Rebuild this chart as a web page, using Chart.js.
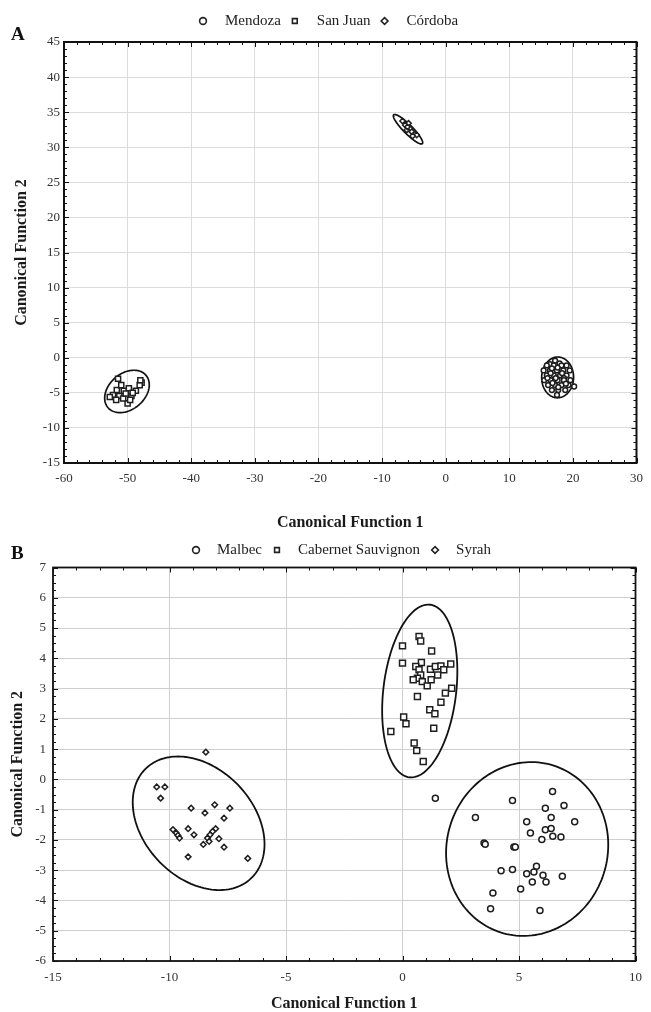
<!DOCTYPE html>
<html>
<head>
<meta charset="utf-8">
<script src="https://cdn.jsdelivr.net/npm/chart.js@4.4.1/dist/chart.umd.min.js"></script>
<style>
  body{margin:0;background:#fff;width:651px;height:1012px;position:relative;overflow:hidden;font-family:"Liberation Serif",serif;}
  .panel{position:absolute;left:0;width:651px;}
  #wrapA{top:0;height:540px;}
  #wrapB{top:530px;height:482px;}
  .tag{position:absolute;font-weight:bold;font-size:19px;line-height:1;color:#111;}
</style>
</head>
<body>
<div class="panel" id="wrapA"><canvas id="chartA"></canvas></div>
<div class="panel" id="wrapB"><canvas id="chartB"></canvas></div>
<div class="tag" style="left:11px;top:24px">A</div>
<div class="tag" style="left:11px;top:543px">B</div>
<script>
const SERIF = "'Liberation Serif', 'Times New Roman', serif";

// ---- Panel A: geographical origin ----
const labelsA = ['Mendoza', 'San Juan', 'Córdoba'];
const xTicksA = [-60, -50, -40, -30, -20, -10, 0, 10, 20, 30];
const yTicksA = [-15, -10, -5, 0, 5, 10, 15, 20, 25, 30, 35, 40, 45];

const mendoza = [
  [17.2,-0.4],[16.4,-0.9],[17.9,-0.8],[15.9,-1.1],[17.0,-1.1],[18.2,-1.1],[19.0,-1.1],
  [15.4,-1.8],[16.4,-1.8],[17.5,-1.8],[18.5,-1.8],[19.5,-1.8],
  [15.9,-2.5],[17.0,-2.5],[18.0,-2.5],[19.0,-2.5],[16.5,-2.2],[18.6,-2.9],
  [15.5,-3.2],[16.5,-3.2],[17.6,-3.2],[18.6,-3.2],[19.6,-3.2],
  [16.1,-3.9],[17.2,-3.9],[18.2,-3.9],[19.3,-3.9],[20.2,-4.1],
  [16.7,-4.6],[17.7,-4.6],[18.8,-4.6],[17.5,-5.3],
  [16.0,-2.9],[17.3,-2.9],[18.3,-2.2],[17.7,-4.2],[16.8,-3.6],[18.9,-3.7],[17.6,-1.4],[16.7,-1.5]
];
const sanJuan = [
  [-52.3,-5.3],[-51.3,-5.45],[-50.6,-4.7],[-49.8,-4.35],[-49.4,-5.45],[-48.7,-4.7],
  [-50.0,-6.5],[-50.7,-5.8],[-47.8,-3.55],[-51.7,-4.6],[-51.0,-3.9],[-48.1,-3.9],
  [-49.6,-6.0],[-50.3,-5.1],[-51.5,-3.0],[-48.0,-3.2],[-52.8,-5.6],[-51.8,-6.0],[-49.2,-5.0]
];
const cordoba = [
  [-6.36,33.17],[-5.84,33.41],[-5.58,32.70],[-6.11,32.46],[-5.06,31.99],
  [-4.55,31.75],[-5.33,32.22],[-6.78,33.74],[-6.0,32.9],[-5.2,31.6]
];
// ellipse: centre x, centre y, first semi-axis (dx, dy), second semi-axis (dx, dy)
const mendozaEllipse = [17.6, -2.8, 0.2, 2.9, 2.5, -0.2];
const sanJuanEllipse = [-50.1, -4.8, 3.0, 2.29, -1.81, 1.97];
const cordobaEllipse = [-5.92, 32.57, 2.25, -2.05, 0.5, 0.45];

// ---- Panel B: grape variety ----
const labelsB = ['Malbec', 'Cabernet Sauvignon', 'Syrah'];
const xTicksB = [-15, -10, -5, 0, 5, 10];
const yTicksB = [-6, -5, -4, -3, -2, -1, 0, 1, 2, 3, 4, 5, 6, 7];

const malbec = [
  [6.44,-0.4],[1.41,-0.62],[4.72,-0.7],[6.93,-0.86],[6.13,-0.95],[6.38,-1.26],[7.39,-1.4],
  [3.13,-1.26],[5.33,-1.4],[5.49,-1.77],[6.13,-1.66],[6.38,-1.62],[6.45,-1.88],[6.8,-1.9],
  [5.98,-1.99],[3.5,-2.1],[3.55,-2.14],[4.78,-2.23],[4.84,-2.23],[5.75,-2.87],[4.23,-3.02],
  [4.72,-2.98],[5.33,-3.12],[5.64,-3.06],[6.03,-3.17],[6.86,-3.2],[5.57,-3.39],[6.16,-3.39],
  [5.07,-3.62],[3.88,-3.75],[3.78,-4.27],[5.9,-4.33]
];
const cabernet = [
  [0.71,4.72],[0.78,4.57],[0.0,4.41],[1.25,4.24],[0.0,3.84],[0.81,3.86],[0.57,3.73],
  [1.2,3.64],[1.41,3.73],[1.65,3.75],[2.07,3.81],[1.77,3.62],[1.51,3.45],[0.71,3.62],
  [0.78,3.45],[0.64,3.34],[0.46,3.29],[0.85,3.23],[1.06,3.09],[1.23,3.29],[2.11,3.01],
  [1.84,2.85],[0.64,2.74],[1.65,2.55],[1.17,2.3],[1.39,2.17],[0.05,2.06],[0.15,1.84],
  [1.34,1.69],[0.5,1.2],[0.61,0.95],[0.89,0.59],[-0.5,1.58]
];
const syrah = [
  [-10.55,-0.25],[-10.2,-0.25],[-10.38,-0.62],[-8.44,0.9],[-9.07,-0.95],[-8.48,-1.11],
  [-8.06,-0.84],[-7.41,-0.95],[-7.66,-1.28],[-9.85,-1.66],[-9.71,-1.77],[-9.64,-1.85],
  [-9.57,-1.94],[-9.2,-1.63],[-8.95,-1.83],[-8.02,-1.63],[-8.15,-1.72],[-8.26,-1.83],
  [-8.37,-1.94],[-8.30,-2.05],[-8.55,-2.15],[-7.88,-1.96],[-7.66,-2.24],[-9.2,-2.56],[-6.64,-2.61]
];
const malbecEllipse = [5.35, -2.3, 1.27, 2.72, 3.24, -0.92];
const cabernetEllipse = [0.74, 2.92, 0.448, 2.85, 1.55, -0.149];
const syrahEllipse = [-8.75, -1.45, 2.29, -1.79, 1.66, 1.29];

function toXY(arr){ return arr.map(p => ({x: p[0], y: p[1]})); }

// confidence ellipses, traced in data space and mapped through the scales
const ellipsePlugin = {
  id: 'ellipses',
  beforeDatasetsDraw(chart, args, opts){
    const {ctx, scales: {x, y}} = chart;
    ctx.save();
    ctx.strokeStyle = opts.color; ctx.lineWidth = opts.width;
    (opts.items || []).forEach(e => {
      ctx.beginPath();
      for(let i = 0; i <= 160; i++){
        const t = i / 160 * Math.PI * 2;
        const px = x.getPixelForValue(e[0] + e[2]*Math.cos(t) + e[4]*Math.sin(t));
        const py = y.getPixelForValue(e[1] + e[3]*Math.cos(t) + e[5]*Math.sin(t));
        if(i) ctx.lineTo(px, py); else ctx.moveTo(px, py);
      }
      ctx.closePath(); ctx.stroke();
    });
    ctx.restore();
  }
};

// box around the plot with inward major/minor ticks on all sides
const framePlugin = {
  id: 'frame',
  afterDatasetsDraw(chart, args, o){
    const {ctx, chartArea: a, scales: {x, y}} = chart;
    const isMajor = (v, m) => Math.abs(v/m - Math.round(v/m)) < 1e-6;
    ctx.save();
    ctx.strokeStyle = '#111';
    ctx.lineWidth = 1;
    ctx.beginPath();
    for(let k = 0; x.min + k*o.xMinor <= x.max + 1e-9; k++){
      const v = x.min + k*o.xMinor, px = Math.round(x.getPixelForValue(v)) + 0.5;
      const len = isMajor(v, o.xMajor) ? 5 : 3;
      ctx.moveTo(px, a.bottom); ctx.lineTo(px, a.bottom - len);
      ctx.moveTo(px, a.top); ctx.lineTo(px, a.top + len);
    }
    for(let k = 0; y.min + k*o.yMinor <= y.max + 1e-9; k++){
      const v = y.min + k*o.yMinor, py = Math.round(y.getPixelForValue(v)) + 0.5;
      const len = isMajor(v, o.yMajor) ? 5 : 3;
      ctx.moveTo(a.left, py); ctx.lineTo(a.left + len, py);
      ctx.moveTo(a.right, py); ctx.lineTo(a.right - len, py);
    }
    ctx.stroke();
    ctx.lineWidth = o.width;
    ctx.strokeRect(a.left, a.top, a.right - a.left, a.bottom - a.top);
    ctx.restore();
  }
};

// one-row legend above the plot, built from the datasets
const legendPlugin = {
  id: 'markerLegend',
  afterDraw(chart, args, o){
    const ctx = chart.ctx;
    ctx.save();
    ctx.font = '15px ' + SERIF;
    ctx.textBaseline = 'middle';
    let cx = o.x;
    chart.data.datasets.forEach(ds => {
      ctx.fillStyle = '#fff'; ctx.strokeStyle = '#222'; ctx.lineWidth = 1.6;
      Chart.helpers.drawPoint(ctx, {pointStyle: ds.pointStyle, radius: o.radius, rotation: 0, borderWidth: 1.6}, cx, o.y);
      ctx.fillStyle = '#222';
      ctx.fillText(ds.label, cx + o.gap, o.y);
      cx += o.gap + ctx.measureText(ds.label).width + o.sep;
    });
    ctx.restore();
  }
};

function axis(min, max, ticks, title, titlePad, tickPad, fit, gridColor){
  return {
    type: 'linear', min, max,
    afterBuildTicks: s => { s.ticks = ticks.map(v => ({value: v})); },
    afterFit: fit,
    ticks: { padding: tickPad, color: '#333', font: {family: SERIF, size: 13} },
    grid: { color: gridColor, lineWidth: 1, drawTicks: false },
    border: { display: false },
    title: { display: true, text: title, color: '#1a1a1a',
             font: {family: SERIF, size: 16, weight: 'bold', lineHeight: 1}, padding: titlePad }
  };
}

function dataset(label, pts, style, r){
  return { label, data: toXY(pts), pointStyle: style, pointRadius: r,
           pointBackgroundColor: '#fff', pointBorderColor: '#1e1e1e', pointBorderWidth: 1.5 };
}

new Chart(document.getElementById('chartA'), {
  type: 'scatter',
  data: { datasets: [
    dataset(labelsA[0], mendoza, 'circle', 2.4),
    dataset(labelsA[1], sanJuan, 'rect', 3.6),
    dataset(labelsA[2], cordoba, 'rectRot', 2.7)
  ]},
  options: {
    responsive: true, maintainAspectRatio: false, animation: false, devicePixelRatio: 1, events: [],
    layout: { padding: {left: 0, right: 12, top: 42, bottom: 0} },
    scales: {
      x: axis(-60, 30, xTicksA, 'Canonical Function 1', {top: 0, bottom: 9}, 8, s => { s.height = 77; }, '#dcdcdc'),
      y: axis(-15, 45, yTicksA, 'Canonical Function 2', {top: 13.7, bottom: 0}, 4, s => { s.width = 64; }, '#dcdcdc')
    },
    plugins: {
      legend: {display: false}, tooltip: {enabled: false},
      ellipses: { items: [mendozaEllipse, sanJuanEllipse, cordobaEllipse], color: '#111', width: 1.7 },
      frame: { xMinor: 2, xMajor: 10, yMinor: 1, yMajor: 5, width: 2 },
      markerLegend: { x: 203, y: 21, gap: 22, sep: 14, radius: 3.4 }
    }
  },
  plugins: [ellipsePlugin, framePlugin, legendPlugin]
});

new Chart(document.getElementById('chartB'), {
  type: 'scatter',
  data: { datasets: [
    dataset(labelsB[0], malbec, 'circle', 3.0),
    dataset(labelsB[1], cabernet, 'rect', 4.2),
    dataset(labelsB[2], syrah, 'rectRot', 2.8)
  ]},
  options: {
    responsive: true, maintainAspectRatio: false, animation: false, devicePixelRatio: 1, events: [],
    layout: { padding: {left: 0, right: 6, top: 37.5, bottom: 0} },
    scales: {
      x: axis(-15, 10, xTicksB, 'Canonical Function 1', {top: 0, bottom: 0}, 9, s => { s.height = 51; }, '#cfcfcf'),
      y: axis(-6, 7, yTicksB, 'Canonical Function 2', {top: 10.3, bottom: 0}, 7, s => { s.width = 53; }, '#cfcfcf')
    },
    plugins: {
      legend: {display: false}, tooltip: {enabled: false},
      ellipses: { items: [malbecEllipse, cabernetEllipse, syrahEllipse], color: '#111', width: 1.8 },
      frame: { xMinor: 1, xMajor: 5, yMinor: 0.25, yMajor: 1, width: 1.8 },
      markerLegend: { x: 196, y: 20, gap: 21, sep: 15, radius: 3.4 }
    }
  },
  plugins: [ellipsePlugin, framePlugin, legendPlugin]
});
</script>
</body>
</html>
